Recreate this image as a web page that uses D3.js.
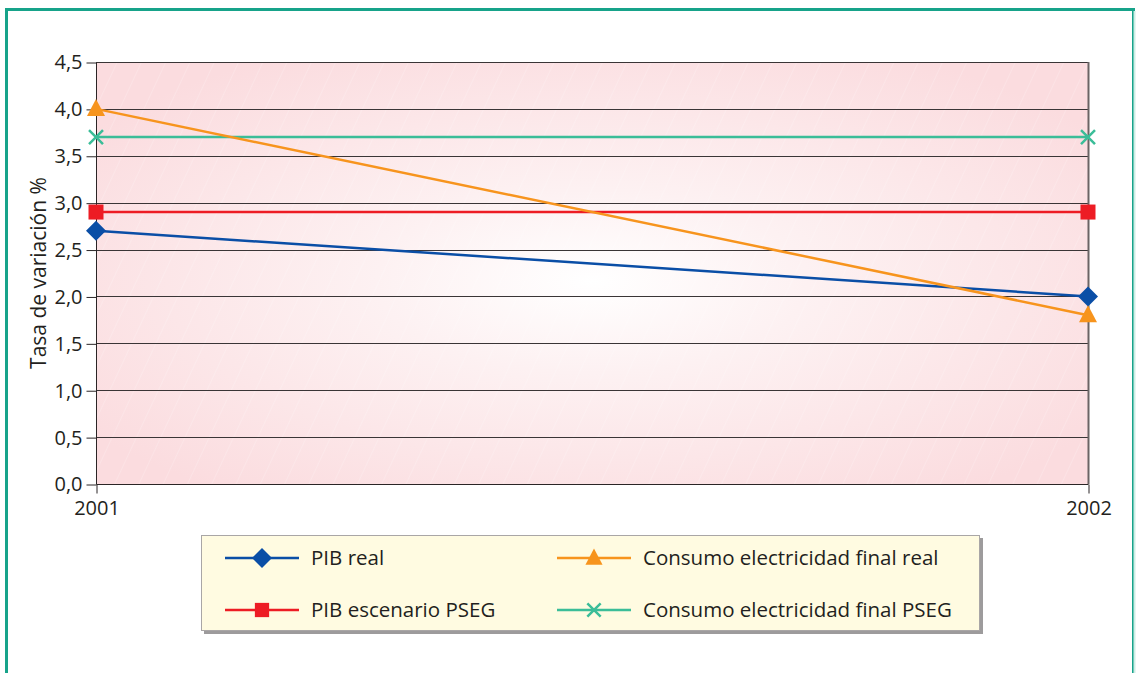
<!DOCTYPE html>
<html>
<head>
<meta charset="utf-8">
<script src="https://cdn.jsdelivr.net/npm/d3@7"></script>
<style>
  html, body { margin: 0; padding: 0; background: #fff; }
  svg { display: block; font-family: "Open Sans", "DejaVu Sans", sans-serif; }
</style>
</head>
<body>
<svg id="chart" width="1136" height="673"></svg>
<script>
// Growth rates (%) by year
const years = ["2001", "2002"];
const pibReal = [2.7, 2.0];
const consumoReal = [4.0, 1.8];
const pibPSEG = [2.9, 2.9];
const consumoPSEG = [3.7, 3.7];
const yTicks = [0, 0.5, 1, 1.5, 2, 2.5, 3, 3.5, 4, 4.5];

const series = [
  { name: "PIB real", values: pibReal, color: "#0a4ea6", marker: "diamond" },
  { name: "Consumo electricidad final real", values: consumoReal, color: "#f7941d", marker: "triangle" },
  { name: "PIB escenario PSEG", values: pibPSEG, color: "#ed1c24", marker: "square" },
  { name: "Consumo electricidad final PSEG", values: consumoPSEG, color: "#3bbd98", marker: "cross" }
];

const svg = d3.select("#chart");
const plot = { left: 96, right: 1088, top: 62, bottom: 484 };
const FONT = 20;
const TEXT = "#231f20";

const x = d3.scalePoint().domain(years).range([plot.left, plot.right]);
const y = d3.scaleLinear().domain([0, 4.5]).range([plot.bottom, plot.top]);
const fmt = v => d3.format(".1f")(v).replace(".", ",");

// outer frame
svg.append("rect").attr("x", 6.5).attr("y", 9.5).attr("width", 1127).attr("height", 700)
  .attr("fill", "none").attr("stroke", "#17a38a").attr("stroke-width", 3);
svg.append("line").attr("x1", 1134.5).attr("x2", 1134.5).attr("y1", 11).attr("y2", 673)
  .attr("stroke", "#cfeee6").attr("stroke-width", 2);

// plot background: pink radial fade to white in the middle
const defs = svg.append("defs");
const grad = defs.append("radialGradient").attr("id", "bg")
  .attr("cx", "0.5").attr("cy", "0.52").attr("r", "0.62");
grad.append("stop").attr("offset", "0").attr("stop-color", "#ffffff");
grad.append("stop").attr("offset", "0.35").attr("stop-color", "#fdf1f2");
grad.append("stop").attr("offset", "1").attr("stop-color", "#fbdcdf");
svg.append("rect").attr("x", plot.left).attr("y", plot.top)
  .attr("width", plot.right - plot.left).attr("height", plot.bottom - plot.top)
  .attr("fill", "url(#bg)");

// faint diagonal texture over the background
const pat = defs.append("pattern").attr("id", "hatch").attr("patternUnits", "userSpaceOnUse")
  .attr("width", 22).attr("height", 22).attr("patternTransform", "rotate(25)");
pat.append("line").attr("x1", 0).attr("y1", 0).attr("x2", 0).attr("y2", 22)
  .attr("stroke", "#ffffff").attr("stroke-width", 1).attr("stroke-opacity", 0.35);
svg.append("rect").attr("x", plot.left).attr("y", plot.top)
  .attr("width", plot.right - plot.left).attr("height", plot.bottom - plot.top)
  .attr("fill", "url(#hatch)");

// gridlines
svg.append("g").selectAll("line").data(yTicks.filter(d => d > 0)).join("line")
  .attr("x1", plot.left).attr("x2", plot.right)
  .attr("y1", d => Math.round(y(d)) + 0.5).attr("y2", d => Math.round(y(d)) + 0.5)
  .attr("stroke", "#3a3536").attr("stroke-width", 1);

// right border of plot
svg.append("line").attr("x1", plot.right + 0.5).attr("x2", plot.right + 0.5)
  .attr("y1", plot.top).attr("y2", plot.bottom)
  .attr("stroke", "#6b6465").attr("stroke-width", 2);

// y axis
const yAxis = d3.axisLeft(y).tickValues(yTicks).tickFormat(fmt).tickSize(10).tickPadding(4);
const gy = svg.append("g").attr("transform", `translate(${plot.left + 0.5},0.5)`).call(yAxis);
gy.select(".domain").attr("stroke", "#2b2526").attr("d", `M0,${plot.top}V${plot.bottom}`);
gy.selectAll(".tick line").attr("stroke", "#2b2526");
gy.selectAll("text").attr("font-size", FONT).attr("fill", TEXT)
  .attr("font-family", "Open Sans, DejaVu Sans, sans-serif");

// x axis
const xAxis = d3.axisBottom(x).tickSize(9).tickPadding(7);
const gx = svg.append("g").attr("transform", `translate(0.5,${plot.bottom + 0.5})`).call(xAxis);
gx.select(".domain").attr("stroke", "#2b2526").attr("d", `M${plot.left},0H${plot.right}`);
gx.selectAll(".tick line").attr("stroke", "#2b2526");
gx.selectAll("text").attr("font-size", FONT).attr("fill", TEXT)
  .attr("font-family", "Open Sans, DejaVu Sans, sans-serif");

// y axis title
svg.append("text").attr("transform", "translate(46,273) rotate(-90)")
  .attr("text-anchor", "middle").attr("font-size", 21).attr("fill", TEXT)
  .text("Tasa de variación %");

// marker drawing
function drawMarker(g, type, color, cx, cy, scale) {
  const s = scale || 1;
  if (type === "diamond") {
    g.append("path").attr("d", `M${cx},${cy - 10 * s}L${cx + 10 * s},${cy}L${cx},${cy + 10 * s}L${cx - 10 * s},${cy}Z`)
      .attr("fill", color);
  } else if (type === "triangle") {
    g.append("path").attr("d", `M${cx},${cy - 10 * s}L${cx + 9 * s},${cy + 7 * s}L${cx - 9 * s},${cy + 7 * s}Z`)
      .attr("fill", color);
  } else if (type === "square") {
    g.append("rect").attr("x", cx - 7.5 * s).attr("y", cy - 7.5 * s)
      .attr("width", 15 * s).attr("height", 15 * s).attr("fill", color);
  } else if (type === "cross") {
    g.append("path").attr("d", `M${cx - 7 * s},${cy - 7 * s}L${cx + 7 * s},${cy + 7 * s}M${cx + 7 * s},${cy - 7 * s}L${cx - 7 * s},${cy + 7 * s}`)
      .attr("stroke", color).attr("stroke-width", 2.5).attr("fill", "none");
  }
}

// lines and markers
const line = d3.line().x((d, i) => x(years[i])).y(d => y(d));
const drawOrder = [series[3], series[2], series[0], series[1]];
drawOrder.forEach(s => {
  svg.append("path").datum(s.values).attr("d", line)
    .attr("fill", "none").attr("stroke", s.color).attr("stroke-width", 2.5);
});
drawOrder.forEach(s => {
  const g = svg.append("g");
  s.values.forEach((v, i) => drawMarker(g, s.marker, s.color, x(years[i]), y(v)));
});

// legend
const lg = svg.append("g");
lg.append("rect").attr("x", 204).attr("y", 538).attr("width", 779).attr("height", 96).attr("fill", "#9d9b9c");
lg.append("rect").attr("x", 201.5).attr("y", 535.5).attr("width", 778).attr("height", 95)
  .attr("fill", "#fffbe1").attr("stroke", "#a9a6a6").attr("stroke-width", 1);
const legendPos = [
  { s: series[0], x: 225, y: 558 },
  { s: series[1], x: 557, y: 558 },
  { s: series[2], x: 225, y: 610 },
  { s: series[3], x: 557, y: 610 }
];
legendPos.forEach(p => {
  lg.append("line").attr("x1", p.x).attr("x2", p.x + 74).attr("y1", p.y).attr("y2", p.y)
    .attr("stroke", p.s.color).attr("stroke-width", 2.5);
  drawMarker(lg, p.s.marker, p.s.color, p.x + 37, p.y, p.s.marker === "diamond" ? 1 : 0.95);
  lg.append("text").attr("x", p.x + 86).attr("y", p.y + 7).attr("font-size", 20.5)
    .attr("fill", TEXT).text(p.s.name);
});
</script>
</body>
</html>
